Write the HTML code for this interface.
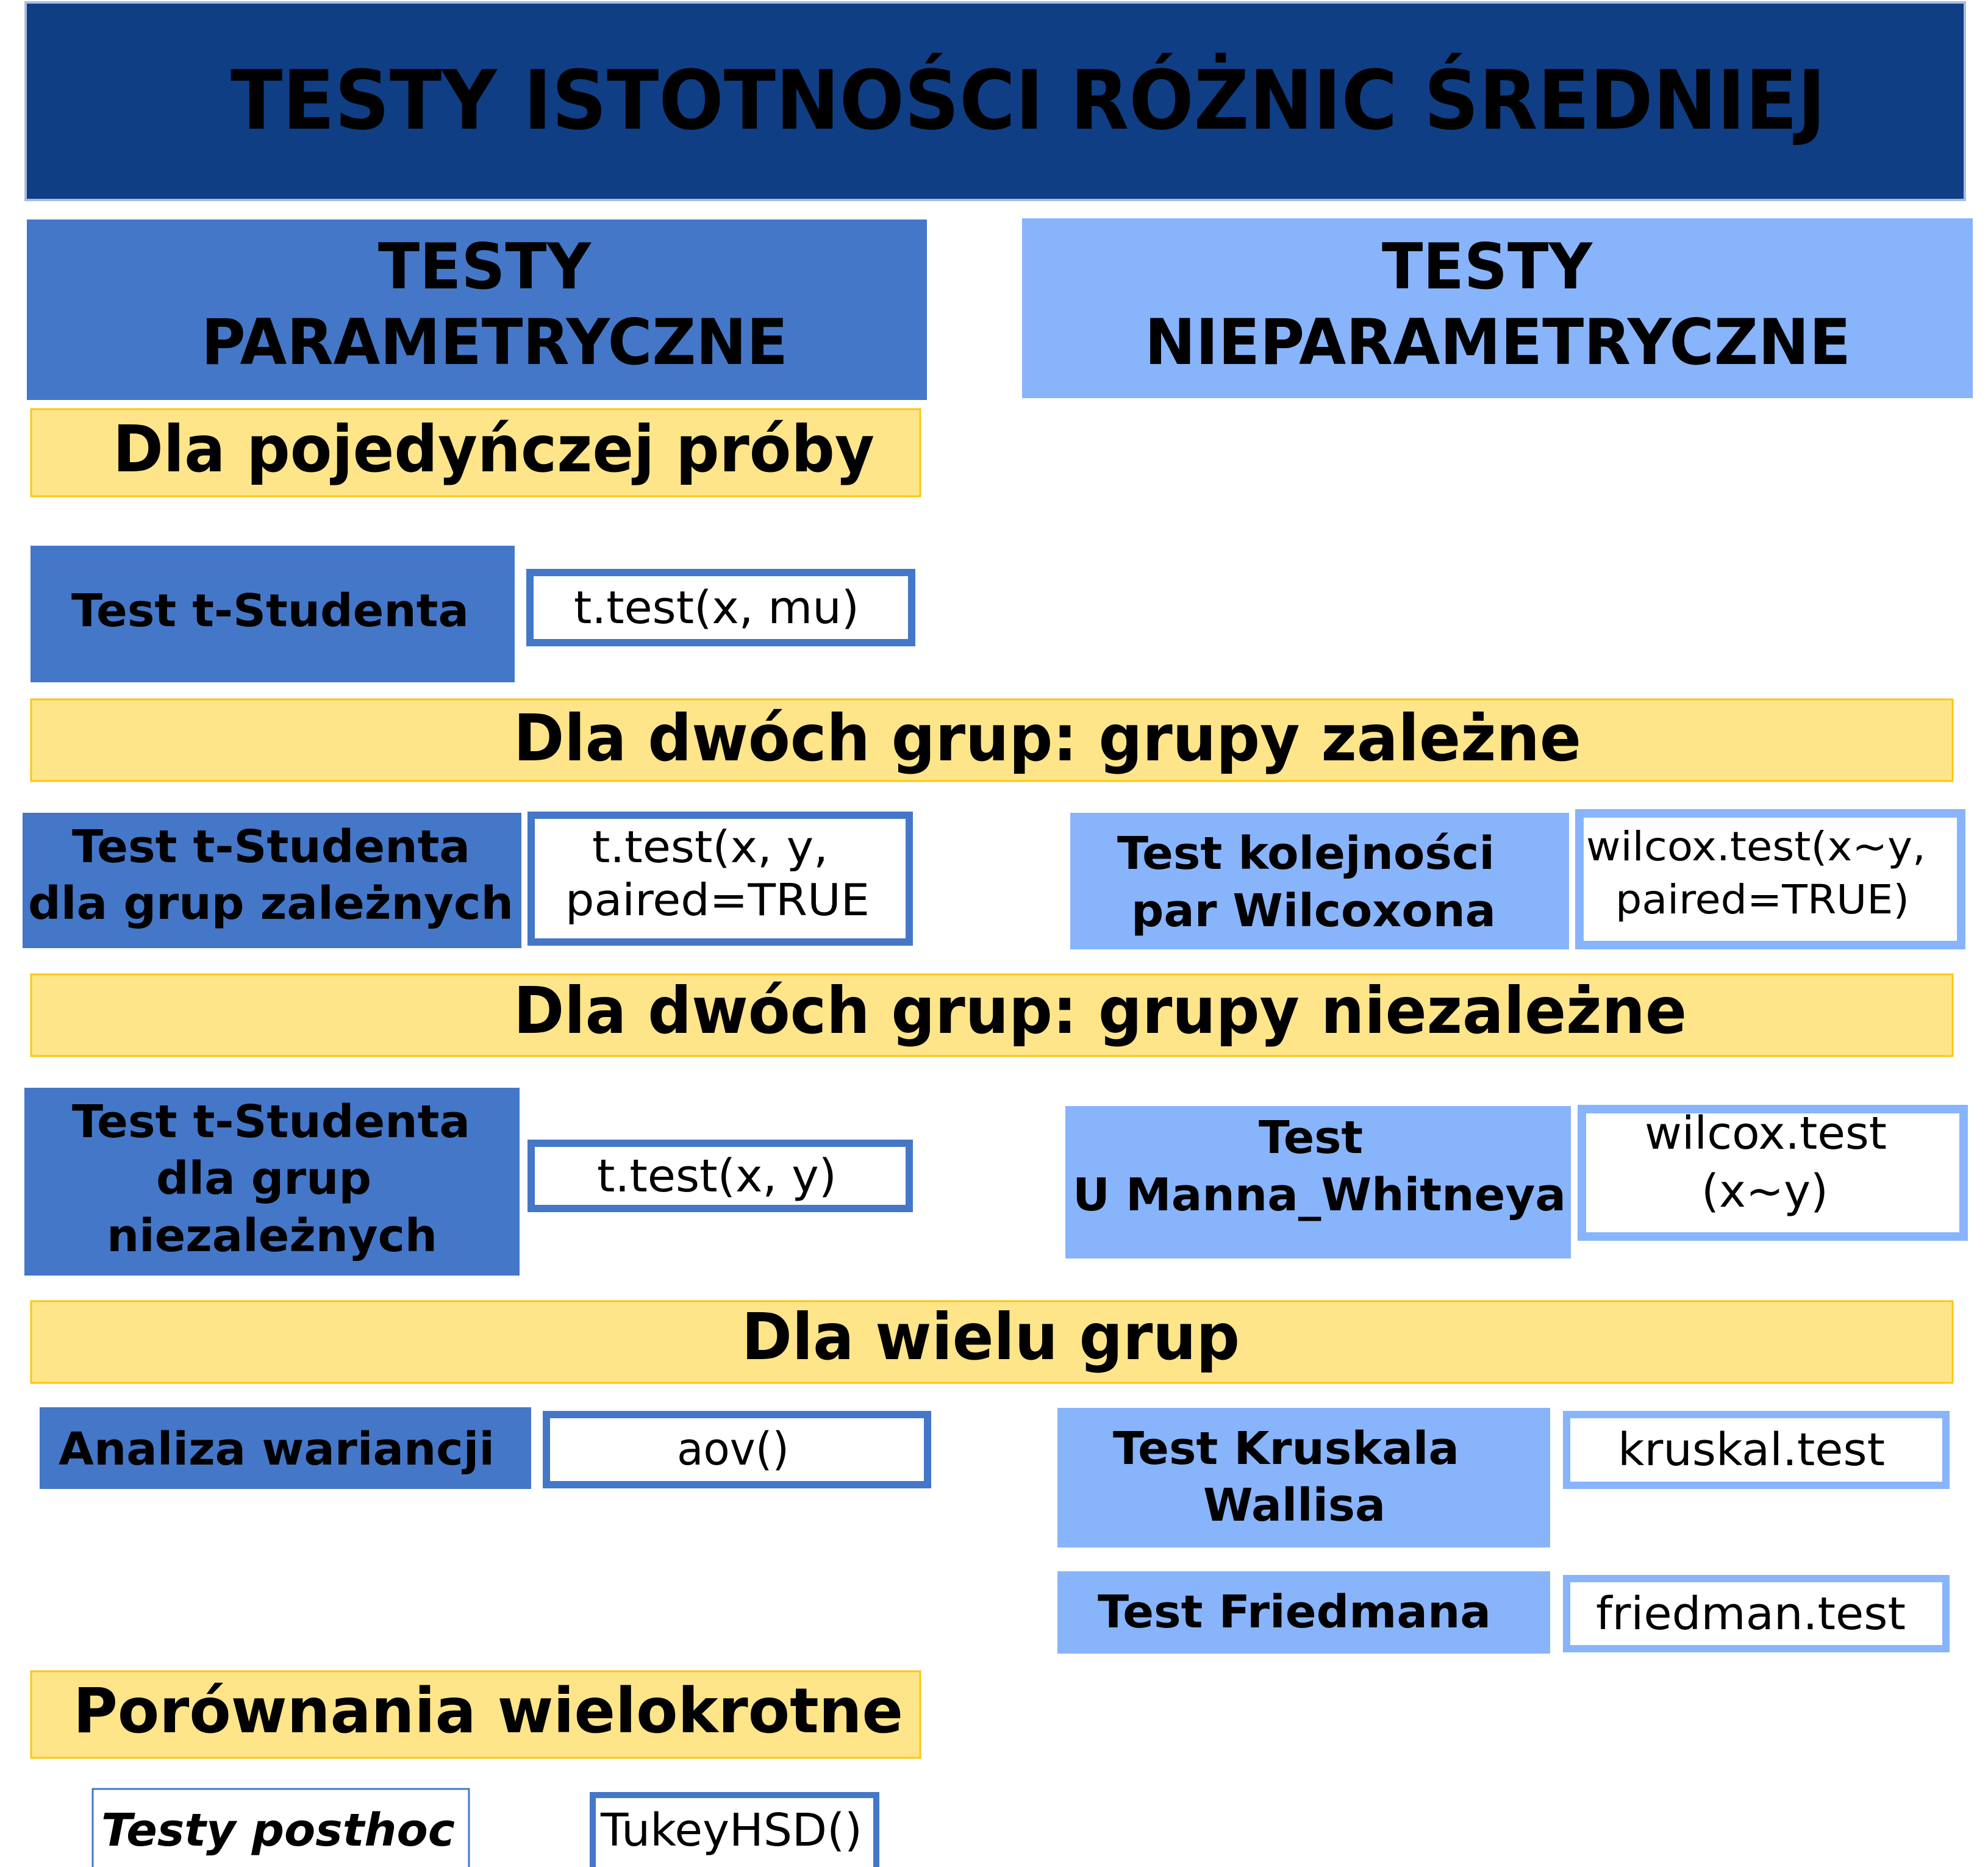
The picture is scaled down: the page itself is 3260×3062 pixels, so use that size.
<!DOCTYPE html>
<html><head><meta charset="utf-8"><style>
html,body{margin:0;padding:0;background:#fff;width:3260px;height:3062px;overflow:hidden}
svg{display:block}
.b{font-family:"DejaVu Sans","Liberation Sans",sans-serif;font-weight:bold;fill:#000}
.n{font-family:"DejaVu Sans","Liberation Sans",sans-serif;fill:#000}
.bi{font-family:"DejaVu Sans","Liberation Sans",sans-serif;font-weight:bold;font-style:italic;fill:#000}
</style></head><body>
<svg width="3260" height="3062" viewBox="0 0 3260 3062" xmlns="http://www.w3.org/2000/svg">
<!-- title -->
<rect x="42" y="4" width="3180" height="324" fill="#0f3e85" stroke="#a9bde0" stroke-width="4"/>
<text class="b" x="378" y="211" font-size="134" textLength="2616" lengthAdjust="spacingAndGlyphs">TESTY ISTOTNOŚCI RÓŻNIC ŚREDNIEJ</text>

<!-- headers -->
<rect x="44" y="360" width="1476" height="296" fill="#4477c8"/>
<text class="b" x="620" y="473" font-size="103" textLength="349" lengthAdjust="spacingAndGlyphs">TESTY</text>
<text class="b" x="330" y="597" font-size="103" textLength="962" lengthAdjust="spacingAndGlyphs">PARAMETRYCZNE</text>
<rect x="1676" y="358" width="1559" height="295" fill="#88b4fb"/>
<text class="b" x="2266" y="473" font-size="103" textLength="345" lengthAdjust="spacingAndGlyphs">TESTY</text>
<text class="b" x="1877" y="597" font-size="103" textLength="1158" lengthAdjust="spacingAndGlyphs">NIEPARAMETRYCZNE</text>

<!-- single sample -->
<rect x="51" y="671" width="1458" height="143" fill="#fee58a" stroke="#f9c80e" stroke-width="3"/>
<text class="b" x="185" y="773" font-size="105" textLength="1249" lengthAdjust="spacingAndGlyphs">Dla pojedyńczej próby</text>
<rect x="50" y="895" width="794" height="224" fill="#4477c8"/>
<text class="b" x="117" y="1027" font-size="74" textLength="652" lengthAdjust="spacingAndGlyphs">Test t-Studenta</text>
<rect x="869" y="939" width="626" height="115" fill="#fff" stroke="#4477c8" stroke-width="12"/>
<text class="n" x="941" y="1022" font-size="74" textLength="468" lengthAdjust="spacingAndGlyphs">t.test(x, mu)</text>

<!-- dependent -->
<rect x="51" y="1147" width="3151" height="134" fill="#fee58a" stroke="#f9c80e" stroke-width="3"/>
<text class="b" x="842" y="1247" font-size="105" textLength="1751" lengthAdjust="spacingAndGlyphs">Dla dwóch grup: grupy zależne</text>
<rect x="37" y="1333" width="818" height="222" fill="#4477c8"/>
<text class="b" x="118" y="1414" font-size="74" textLength="653" lengthAdjust="spacingAndGlyphs">Test t-Studenta</text>
<text class="b" x="46" y="1507" font-size="74" textLength="796" lengthAdjust="spacingAndGlyphs">dla grup zależnych</text>
<rect x="871" y="1337" width="620" height="208" fill="#fff" stroke="#4477c8" stroke-width="12"/>
<text class="n" x="971" y="1414" font-size="72" textLength="387" lengthAdjust="spacingAndGlyphs">t.test(x, y,</text>
<text class="n" x="927" y="1501" font-size="72" textLength="499" lengthAdjust="spacingAndGlyphs">paired=TRUE</text>
<rect x="1755" y="1333" width="818" height="224" fill="#88b4fb"/>
<text class="b" x="1832" y="1425" font-size="74" textLength="619" lengthAdjust="spacingAndGlyphs">Test kolejności</text>
<text class="b" x="1855" y="1519" font-size="74" textLength="598" lengthAdjust="spacingAndGlyphs">par Wilcoxona</text>
<rect x="2590" y="1334" width="626" height="216" fill="#fff" stroke="#88b4fb" stroke-width="14"/>
<text class="n" x="2601" y="1411" font-size="66" textLength="557" lengthAdjust="spacingAndGlyphs">wilcox.test(x~y,</text>
<text class="n" x="2649" y="1498" font-size="66" textLength="482" lengthAdjust="spacingAndGlyphs">paired=TRUE)</text>

<!-- independent -->
<rect x="51" y="1598" width="3151" height="134" fill="#fee58a" stroke="#f9c80e" stroke-width="3"/>
<text class="b" x="842" y="1694" font-size="105" textLength="1924" lengthAdjust="spacingAndGlyphs">Dla dwóch grup: grupy niezależne</text>
<rect x="40" y="1784" width="812" height="308" fill="#4477c8"/>
<text class="b" x="118" y="1865" font-size="74" textLength="653" lengthAdjust="spacingAndGlyphs">Test t-Studenta</text>
<text class="b" x="256" y="1958" font-size="74" textLength="353" lengthAdjust="spacingAndGlyphs">dla grup</text>
<text class="b" x="175" y="2052" font-size="74" textLength="542" lengthAdjust="spacingAndGlyphs">niezależnych</text>
<rect x="871" y="1875" width="620" height="107" fill="#fff" stroke="#4477c8" stroke-width="12"/>
<text class="n" x="979" y="1954" font-size="74" textLength="393" lengthAdjust="spacingAndGlyphs">t.test(x, y)</text>
<rect x="1747" y="1814" width="829" height="250" fill="#88b4fb"/>
<text class="b" x="2064" y="1891" font-size="74" textLength="171" lengthAdjust="spacingAndGlyphs">Test</text>
<text class="b" x="1759" y="1985" font-size="74" textLength="809" lengthAdjust="spacingAndGlyphs">U Manna_Whitneya</text>
<rect x="2594" y="1819" width="626" height="209" fill="#fff" stroke="#88b4fb" stroke-width="14"/>
<text class="n" x="2697" y="1884" font-size="74" textLength="397" lengthAdjust="spacingAndGlyphs">wilcox.test</text>
<text class="n" x="2790" y="1979" font-size="74" textLength="208" lengthAdjust="spacingAndGlyphs">(x~y)</text>

<!-- many groups -->
<rect x="51" y="2134" width="3151" height="134" fill="#fee58a" stroke="#f9c80e" stroke-width="3"/>
<text class="b" x="1216" y="2229" font-size="105" textLength="817" lengthAdjust="spacingAndGlyphs">Dla wielu grup</text>
<rect x="65" y="2308" width="806" height="134" fill="#4477c8"/>
<text class="b" x="96" y="2402" font-size="74" textLength="715" lengthAdjust="spacingAndGlyphs">Analiza wariancji</text>
<rect x="896" y="2320" width="625" height="115" fill="#fff" stroke="#4477c8" stroke-width="12"/>
<text class="n" x="1110" y="2402" font-size="74" textLength="184" lengthAdjust="spacingAndGlyphs">aov()</text>
<rect x="1734" y="2309" width="808" height="229" fill="#88b4fb"/>
<text class="b" x="1825" y="2401" font-size="74" textLength="568" lengthAdjust="spacingAndGlyphs">Test Kruskala</text>
<text class="b" x="1973" y="2494" font-size="74" textLength="299" lengthAdjust="spacingAndGlyphs">Wallisa</text>
<rect x="2569" y="2320" width="622" height="116" fill="#fff" stroke="#88b4fb" stroke-width="12"/>
<text class="n" x="2653" y="2403" font-size="74" textLength="438" lengthAdjust="spacingAndGlyphs">kruskal.test</text>
<rect x="1734" y="2577" width="808" height="135" fill="#88b4fb"/>
<text class="b" x="1800" y="2669" font-size="74" textLength="645" lengthAdjust="spacingAndGlyphs">Test Friedmana</text>
<rect x="2569" y="2589" width="622" height="115" fill="#fff" stroke="#88b4fb" stroke-width="12"/>
<text class="n" x="2617" y="2672" font-size="74" textLength="508" lengthAdjust="spacingAndGlyphs">friedman.test</text>

<!-- multiple comparisons -->
<rect x="51" y="2741" width="1458" height="142" fill="#fee58a" stroke="#f9c80e" stroke-width="3"/>
<text class="b" x="120" y="2841" font-size="102" textLength="1361" lengthAdjust="spacingAndGlyphs">Porównania wielokrotne</text>
<rect x="152" y="2934" width="617" height="140" fill="#fff" stroke="#4477c8" stroke-width="3"/>
<text class="bi" x="166" y="3027" font-size="74" textLength="580" lengthAdjust="spacingAndGlyphs">Testy posthoc</text>
<rect x="972" y="2944" width="465" height="130" fill="#fff" stroke="#4477c8" stroke-width="10"/>
<text class="n" x="985" y="3027" font-size="74" textLength="429" lengthAdjust="spacingAndGlyphs">TukeyHSD()</text>
</svg>
</body></html>
